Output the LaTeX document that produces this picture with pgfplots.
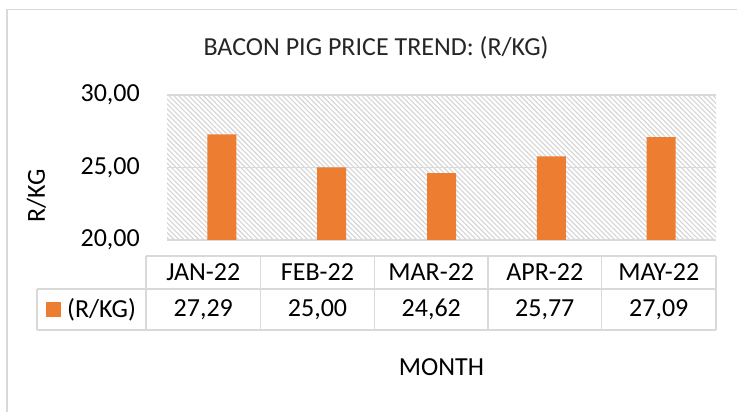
\documentclass[border=0pt]{standalone}
\usepackage{pgfplots}
\pgfplotsset{compat=1.18}
\usepackage{fontspec}
\setmainfont{Carlito}
\usetikzlibrary{patterns.meta}
\definecolor{barorange}{HTML}{ED7D31}
\definecolor{gridgray}{HTML}{D9D9D9}
\definecolor{hatchgray}{HTML}{D4D4D4}
\begin{document}
\fontsize{26}{31}\selectfont
\begin{tikzpicture}
\useasboundingbox (0pt,0pt) rectangle (737pt,412pt);
% chart border
\draw[gridgray, line width=1.5pt] (7pt,0pt) -- (7pt,402.5pt) -- (737pt,402.5pt);
% title
\node[inner sep=0pt, text=black!85] at (376pt,364pt) {BACON PIG PRICE TREND: (R/KG)};
% y label
\node[inner sep=0pt, rotate=90] at (36.5pt,216pt) {R/KG};
\begin{axis}[
  at={(167pt,172pt)}, anchor=south west,
  width=549pt, height=145pt, scale only axis,
  ybar, bar width=29pt,
  xmin=-0.5, xmax=4.5, ymin=20, ymax=30,
  xtick=\empty, ytick={20,25,30},
  ymajorgrids, grid style={gridgray, line width=1.3pt},
  axis line style={draw=none}, tick style={draw=none},
  axis background/.style={pattern={Lines[angle=-45,distance=3.5pt,line width=1.1pt]}, pattern color=hatchgray},
  yticklabel style={inner sep=0pt, anchor=east, xshift=-27pt},
  /pgf/number format/.cd, assume math mode=true, use comma, fixed, fixed zerofill, precision=2,
]
\addplot[fill=barorange, draw=none] coordinates {(0,27.29) (1,25.00) (2,24.62) (3,25.77) (4,27.09)};
\end{axis}
% data table
\begin{scope}[gridgray, line width=1.5pt]
\draw (146pt,156pt) -- (716pt,156pt);
\draw (37pt,123pt) -- (716pt,123pt);
\draw (37pt,82pt) -- (716pt,82pt);
\draw (37pt,123pt) -- (37pt,82pt);
\foreach \x in {146,260.5,374.5,488,601.5,716} {\draw (\x pt,156pt) -- (\x pt,82pt);}
\end{scope}
\fill[barorange] (46pt,95pt) rectangle (61pt,110pt);
\node[inner sep=0pt, anchor=west] at (67pt,102.5pt) {(R/KG)};
\foreach \c/\m/\v in {203.25/JAN-22/{27,29}, 317.5/FEB-22/{25,00}, 431.25/MAR-22/{24,62}, 544.75/APR-22/{25,77}, 658.75/MAY-22/{27,09}} {
  \node[inner sep=0pt] at (\c pt,139.5pt) {\m};
  \node[inner sep=0pt] at (\c pt,102.5pt) {\v};
}
\node[inner sep=0pt] at (441.5pt,44.5pt) {MONTH};
\end{tikzpicture}
\end{document}
